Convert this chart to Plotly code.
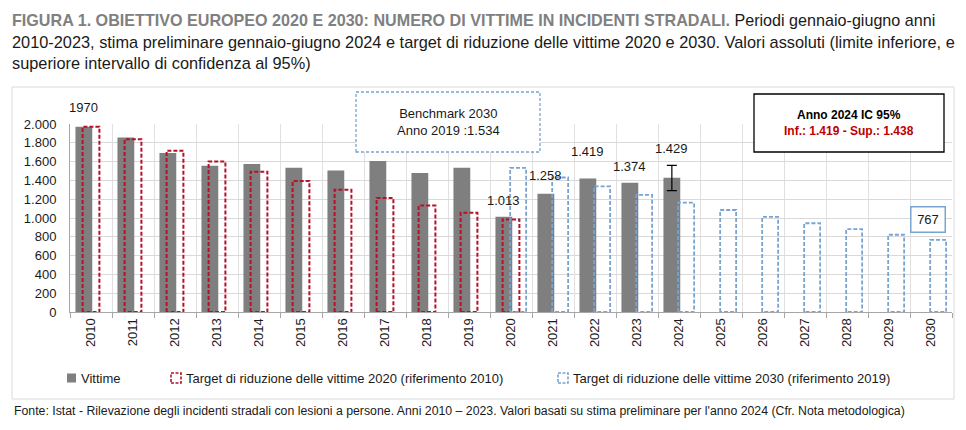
import plotly.graph_objects as go

# ---------------- data ----------------
years = list(range(2010, 2031))
vittime_years = list(range(2010, 2025))
vittime = [1970, 1857, 1691, 1556, 1574, 1535, 1506, 1606, 1479, 1534, 1013, 1258, 1419, 1374, 1429]
ci_year = 2024
ci_plus = 131
ci_minus = 138

target2020_years = list(range(2010, 2021))
target2020 = [1970, 1838, 1715, 1600, 1493, 1393, 1300, 1213, 1132, 1056, 985]

target2030_years = list(range(2020, 2031))
target2030 = [1534, 1431, 1336, 1246, 1163, 1085, 1012, 944, 881, 822, 767]

value_label_years = [2010, 2020, 2021, 2022, 2023, 2024]
value_label_texts = ["1970", "1.013", "1.258", "1.419", "1.374", "1.429"]

legend_names = ["Vittime",
                "Target di riduzione delle vittime 2020 (riferimento 2010)",
                "Target di riduzione delle vittime 2030 (riferimento 2019)"]

title_bold = "FIGURA 1. OBIETTIVO EUROPEO 2020 E 2030: NUMERO DI VITTIME IN INCIDENTI STRADALI."
title_l1_rest = " Periodi gennaio-giugno anni"
title_l2 = "2010-2023, stima preliminare gennaio-giugno 2024 e target di riduzione delle vittime 2020 e 2030. Valori assoluti (limite inferiore, e"
title_l3 = "superiore intervallo di confidenza al 95%)"
footer = ("Fonte: Istat - Rilevazione degli incidenti stradali con lesioni a persone. Anni 2010 \u2013 2023. "
          "Valori basati su stima preliminare per l'anno 2024 (Cfr. Nota metodologica)")

# ---------------- styles ----------------
W, H = 966, 430
ML, MR, MT, MB = 70, 14, 124, 118
PW, PH = W - ML - MR, H - MT - MB
GRAY = "#7f7f7f"
RED = "#b4122b"
BLUE = "#78a4cf"
TXT = "#1a1a1a"
FONT = "Liberation Sans"
BAR_OFF, BAR_W = -0.37, 0.40

# approximate Arial advance widths (1/1000 em) used to size the justified title lines
_REG = {' ': 278, '-': 333, ',': 278, '.': 278, '(': 333, ')': 333, '%': 889, ':': 278, "'": 191, '\u2013': 556}
_REG.update({c: 556 for c in "0123456789"})
_REG.update(dict(zip("abcdefghijklmnopqrstuvwxyz",
                     [556, 556, 500, 556, 556, 278, 556, 556, 222, 222, 500, 222, 833, 556, 556, 556, 556, 333, 500, 278, 556, 500, 722, 500, 500, 500])))
_REG.update(dict(zip("ABCDEFGHIJKLMNOPQRSTUVWXYZ",
                     [667, 667, 722, 722, 667, 611, 778, 722, 278, 500, 667, 556, 833, 722, 778, 667, 778, 722, 667, 611, 722, 667, 944, 667, 667, 611])))
_BOLD = {' ': 278, '.': 278, ':': 333}
_BOLD.update({c: 556 for c in "0123456789"})
_BOLD.update(dict(zip("ABCDEFGHIJKLMNOPQRSTUVWXYZ",
                      [722, 722, 722, 722, 667, 611, 778, 722, 278, 556, 722, 611, 833, 722, 778, 667, 778, 722, 667, 611, 722, 667, 944, 667, 667, 611])))


def em_width(s, table):
    return sum(table.get(c, 556) for c in s) / 1000.0


def pxx(x):
    return (x - ML) / PW


def pxy(y):
    return (H - MB - y) / PH


def rect_path(xs, vals, off0, off1):
    px, py = [], []
    for x, v in zip(xs, vals):
        px += [x + off0, x + off0, x + off1, x + off1, x + off0, None]
        py += [0, v, v, 0, 0, None]
    return px, py


fig = go.Figure()

fig.add_trace(go.Bar(
    x=vittime_years, y=vittime, offset=BAR_OFF, width=BAR_W,
    marker=dict(color=GRAY, line=dict(width=0)),
    showlegend=False, name=legend_names[0]))

# confidence interval whisker for the preliminary 2024 estimate
vmap = dict(zip(vittime_years, vittime))
fig.add_trace(go.Scatter(
    x=[ci_year + BAR_OFF + BAR_W / 2], y=[vmap[ci_year]], mode="markers",
    marker=dict(size=1, color="rgba(0,0,0,0)"),
    error_y=dict(type="data", symmetric=False, array=[ci_plus], arrayminus=[ci_minus],
                 color="black", thickness=1.2, width=5),
    showlegend=False, hoverinfo="skip", cliponaxis=False))

rx, ry = rect_path(target2020_years, target2020, -0.2, 0.2)
fig.add_trace(go.Scatter(x=rx, y=ry, mode="lines", cliponaxis=False,
                         line=dict(color=RED, width=2, dash="4px,2px"),
                         showlegend=False, name=legend_names[1], hoverinfo="skip"))

bx, by = rect_path(target2030_years, target2030, -0.02, 0.36)
fig.add_trace(go.Scatter(x=bx, y=by, mode="lines", cliponaxis=False,
                         line=dict(color=BLUE, width=1.8, dash="4px,2px"),
                         showlegend=False, name=legend_names[2], hoverinfo="skip"))

# value labels
label_shift = {2010: 10, 2020: 7, 2021: 9, 2022: 18, 2023: 7, 2024: 20}
for yr, txt in zip(value_label_years, value_label_texts):
    fig.add_annotation(x=yr + BAR_OFF + BAR_W / 2, y=vmap[yr], text=txt, showarrow=False,
                       xref="x", yref="y", xanchor="center", yanchor="bottom",
                       yshift=label_shift[yr],
                       font=dict(family=FONT, size=13, color=TXT))

# 767 label box
fig.add_annotation(x=2030 - 0.07, y=target2030[-1], text=str(target2030[-1]), showarrow=False,
                   xref="x", yref="y", xanchor="center", yanchor="bottom", yshift=7,
                   width=29, height=20,
                   font=dict(family=FONT, size=13, color=TXT),
                   bordercolor=BLUE, borderwidth=1.5, borderpad=2, bgcolor="white")

# Benchmark box
fig.add_shape(type="rect", xref="paper", yref="paper",
              x0=pxx(356), x1=pxx(540), y0=pxy(152), y1=pxy(92),
              line=dict(color=BLUE, width=1.3, dash="3px,2px"), fillcolor="white")
fig.add_annotation(xref="paper", yref="paper", x=pxx(448), y=pxy(122),
                   xanchor="center", yanchor="middle",
                   text="Benchmark 2030<br>Anno 2019 :1.534", showarrow=False,
                   font=dict(family=FONT, size=13, color=TXT), align="center")

# IC box
fig.add_shape(type="rect", xref="paper", yref="paper",
              x0=pxx(754), x1=pxx(944), y0=pxy(152), y1=pxy(94),
              line=dict(color="black", width=1.3), fillcolor="white")
fig.add_annotation(xref="paper", yref="paper", x=pxx(849), y=pxy(123),
                   xanchor="center", yanchor="middle",
                   text="<b>Anno 2024 IC 95%</b><br><b><span style='color:#c00000'>Inf.: 1.419 - Sup.: 1.438</span></b>",
                   showarrow=False, font=dict(family=FONT, size=12, color="black"), align="center")

# outer frame
fig.add_shape(type="rect", xref="paper", yref="paper",
              x0=pxx(12), x1=pxx(954), y0=pxy(399), y1=pxy(87),
              line=dict(color="#d9d9d9", width=1), layer="below")

# title (each line sized to fill the justified width)
TW = 945.0
s1 = 0.978 * TW / (em_width(title_bold, _BOLD) + em_width(title_l1_rest, _REG))
s2 = TW / em_width(title_l2, _REG)
title_lines = [
    ("<span style='color:#808080'><b>" + title_bold + "</b></span>" + title_l1_rest, s1),
    (title_l2, s2),
    (title_l3, s2),
]
for i, (t, sz) in enumerate(title_lines):
    fig.add_annotation(xref="paper", yref="paper", x=pxx(10), y=pxy(20 + 21.5 * i),
                       xanchor="left", yanchor="middle", text=t, showarrow=False,
                       font=dict(family=FONT, size=sz, color=TXT))

# footer
fsz = 894.0 / em_width(footer, _REG)
fig.add_annotation(xref="paper", yref="paper", x=pxx(12), y=pxy(411),
                   xanchor="left", yanchor="middle", showarrow=False, text=footer,
                   font=dict(family=FONT, size=fsz, color=TXT))

# manual legend
LEG_Y = 378
fig.add_shape(type="rect", xref="paper", yref="paper",
              x0=pxx(67), x1=pxx(76), y0=pxy(382.5), y1=pxy(373.5),
              fillcolor=GRAY, line=dict(width=0))
for (x0, col) in [(171, RED), (558, BLUE)]:
    fig.add_shape(type="rect", xref="paper", yref="paper",
                  x0=pxx(x0), x1=pxx(x0 + 10), y0=pxy(383), y1=pxy(373),
                  line=dict(color=col, width=1.6, dash="3px,1.5px"))
for (x0, name) in [(79, legend_names[0]), (184, legend_names[1]), (571, legend_names[2])]:
    fig.add_annotation(xref="paper", yref="paper", x=pxx(x0), y=pxy(LEG_Y),
                       xanchor="left", yanchor="middle", text=name, showarrow=False,
                       font=dict(family=FONT, size=13, color=TXT))

fig.update_layout(
    width=W, height=H,
    margin=dict(l=ML, r=MR, t=MT, b=MB, pad=0),
    paper_bgcolor="white", plot_bgcolor="white",
    barmode="overlay", separators=",.",
    showlegend=False,
    font=dict(family=FONT, size=13, color=TXT),
)
fig.update_xaxes(
    range=[2009.5, 2030.5], tickmode="array", tickvals=years,
    ticktext=[str(y) for y in years], tickangle=-90,
    ticks="", showgrid=False, showline=True, linecolor="#a6a6a6", linewidth=1,
    tickfont=dict(family=FONT, size=13, color=TXT),
    minor=dict(tickvals=[y + 0.5 for y in range(2009, 2031)], ticks="outside",
               ticklen=5, tickcolor="#a6a6a6", showgrid=True, gridcolor="#e0e0e0"),
    zeroline=False,
)
fig.update_yaxes(
    range=[0, 2000], tickmode="linear", tick0=0, dtick=200, tickformat=",d",
    showgrid=True, gridcolor="#d9d9d9", gridwidth=1,
    showline=True, linecolor="#a6a6a6", linewidth=1,
    ticks="outside", ticklen=10, tickcolor="rgba(0,0,0,0)",
    tickfont=dict(family=FONT, size=13, color=TXT), zeroline=False,
)

fig.write_html("out.html", config={"responsive": False, "displayModeBar": False},
               post_script="document.body.style.margin='0px';document.body.style.padding='0px';")
